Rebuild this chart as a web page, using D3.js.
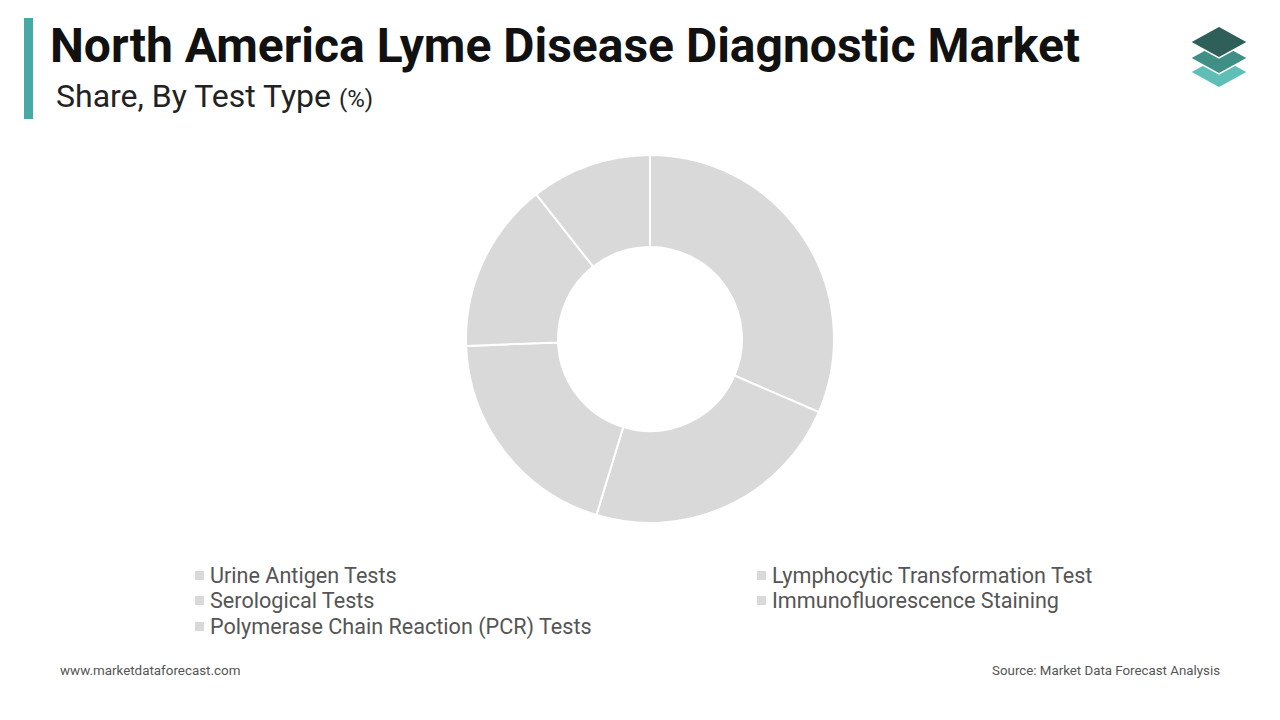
<!DOCTYPE html>
<html><head><meta charset="utf-8">
<script src="https://cdn.jsdelivr.net/npm/d3@7"></script>
<style>body{margin:0;background:#fff;font-family:Roboto,sans-serif}</style>
</head><body>
<script>
var categories = ["Urine Antigen Tests","Lymphocytic Transformation Test","Serological Tests","Immunofluorescence Staining","Polymerase Chain Reaction (PCR) Tests"];
var shares = [31.5, 23.2, 19.7, 15.0, 10.6];

var svg = d3.select('body').append('svg').attr('width',1280).attr('height',720);
svg.append('rect').attr('x',24).attr('y',18).attr('width',9).attr('height',101).attr('fill','#45a9a4');
svg.append('text').attr('x',50).attr('y',62).attr('font-size',48).attr('font-weight',700).attr('fill','#111').text('North America Lyme Disease Diagnostic Market');
var sub = svg.append('text').attr('x',56).attr('y',107).attr('font-size',32).attr('fill','#222').text('Share, By Test Type ');
sub.append('tspan').attr('font-size',24).text('(%)');

// logo
var logo = svg.append('g').attr('transform','translate(1219,0)');
[[72,'#5fbfb6'],[58,'#3f8f87'],[42,'#2e5f58']].forEach(function(d){
  logo.append('path').attr('d','M-29,'+d[0]+' L0,'+(d[0]-16)+' L29,'+d[0]+' L0,'+(d[0]+16)+'Z').attr('fill',d[1]).attr('stroke','#fff').attr('stroke-width',1.5);
});

var pie = d3.pie().sort(null).value(function(d){return d;});
var arc = d3.arc().innerRadius(92).outerRadius(184);
var g = svg.append('g').attr('transform','translate(650,339)');
g.selectAll('path').data(pie(shares)).enter().append('path')
  .attr('d',arc).attr('fill','#d9d9d9').attr('stroke','#fff').attr('stroke-width',2);

var lx = [195, 757], ly = [576, 601, 627];
categories.forEach(function(c,i){
  var x = lx[i%2], y = ly[Math.floor(i/2)];
  svg.append('rect').attr('x',x).attr('y',y-5).attr('width',9).attr('height',9).attr('fill','#d9d9d9');
  svg.append('text').attr('x',x+15).attr('y',y+7).attr('font-size',21.6).attr('fill','#555').text(c);
});

svg.append('text').attr('x',60).attr('y',675).attr('font-size',13.4).attr('fill','#555').text('www.marketdataforecast.com');
svg.append('text').attr('x',1220).attr('y',675).attr('text-anchor','end').attr('font-size',13.3).attr('fill','#555').text('Source: Market Data Forecast Analysis');
</script>
</body></html>
